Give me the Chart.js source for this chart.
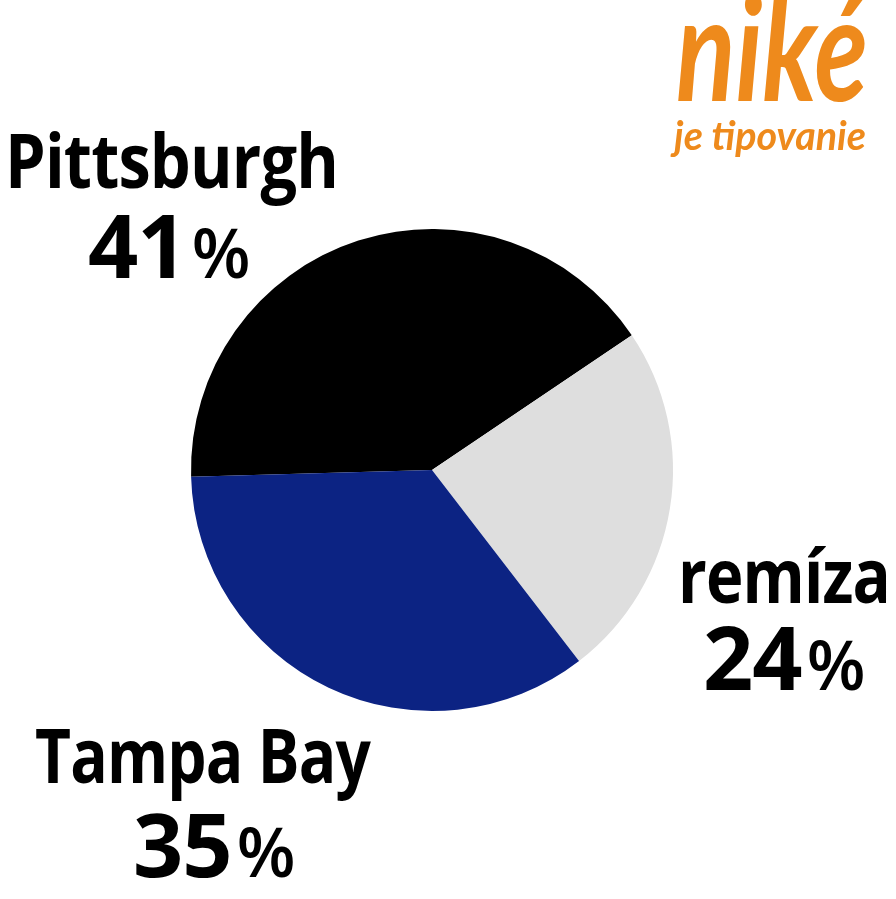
<!DOCTYPE html>
<html>
<head>
<meta charset="utf-8">
<script src="https://cdn.jsdelivr.net/npm/chart.js@4/dist/chart.umd.min.js"></script>
<style>
  html, body { margin: 0; padding: 0; background: #fff; }
  #wrap { width: 896px; height: 899px; }
</style>
</head>
<body>
<div id="wrap"><canvas id="pie" width="896" height="899"></canvas></div>
<script>
// data
var teams = ['Pittsburgh', 'remíza', 'Tampa Bay'];
var shares = [41, 24, 35];
var sliceColors = ['#000000', '#dedede', '#0c2383'];

// where each label goes (name line + percent line)
var labelSpots = [
    {x: 5,   y: 188, w: 333, px: 88,  py: 278, pw: 104},
    {x: 678, y: 603, w: 212, px: 703, py: 690, pw: 104},
    {x: 35,  y: 783, w: 335, px: 133, py: 877, pw: 100}
];

var fontFam = '"Open Sans", "Noto Sans", sans-serif';

var outsideLabels = {
    id: 'outsideLabels',
    afterDraw: function (chart) {
        var ctx = chart.ctx;
        ctx.save();
        ctx.fillStyle = '#000';
        ctx.textBaseline = 'alphabetic';
        ctx.textAlign = 'left';
        for (var i = 0; i < teams.length; i++) {
            var s = labelSpots[i];
            ctx.letterSpacing = '-1px';
            ctx.font = 'bold 76px ' + fontFam;
            ctx.fillText(teams[i], s.x, s.y, s.w);
            ctx.font = 'bold 88px ' + fontFam;
            var num = String(shares[i]);
            var nw = Math.min(ctx.measureText(num).width, s.pw);
            ctx.fillText(num, s.px, s.py, s.pw);
            ctx.letterSpacing = '0px';
            ctx.font = '600 68px ' + fontFam;
            ctx.fillText('%', s.px + nw + 5, s.py, 60);
        }
        // niké logo
        ctx.fillStyle = '#ee8a1c';
        ctx.font = 'italic bold 146px Lato, sans-serif';
        ctx.fillText('niké', 676, 101, 192);
        ctx.font = 'italic bold 40px Lato, sans-serif';
        ctx.fillText('je tipovanie', 674, 150, 192);
        ctx.restore();
    }
};

new Chart(document.getElementById('pie').getContext('2d'), {
    type: 'pie',
    data: {
        labels: teams,
        datasets: [{
            data: shares,
            backgroundColor: sliceColors,
            borderWidth: 0
        }]
    },
    options: {
        responsive: false,
        animation: false,
        rotation: -91.6,
        layout: {padding: {left: 191, right: 223, top: 229, bottom: 188}},
        plugins: {
            legend: {display: false},
            tooltip: {enabled: false}
        }
    },
    plugins: [outsideLabels]
});
</script>
</body>
</html>
